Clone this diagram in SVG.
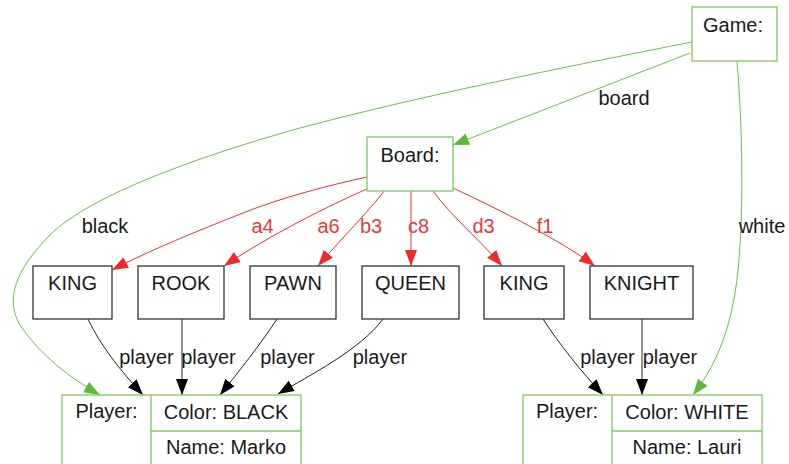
<svg xmlns="http://www.w3.org/2000/svg" width="789" height="464" viewBox="0 0 789 464">
  <style>
    text { font-family: "Liberation Sans", Arial, sans-serif; font-size: 20px; fill: #1a1a1a; text-anchor: middle; }
    .obj { fill: #ffffff; stroke: #7acb5c; stroke-width: 1.3; }
    .cls { fill: #ffffff; stroke: #333333; stroke-width: 1.3; }
    .div { stroke: #7acb5c; stroke-width: 1.3; fill: none; }
    .eg { fill: none; stroke: #6cc04c; stroke-width: 1; marker-end: url(#ag); }
    .er { fill: none; stroke: #ee3030; stroke-width: 1; marker-end: url(#ar); }
    .ek { fill: none; stroke: #222222; stroke-width: 1; marker-end: url(#ak); }
    .lr { fill: #e83a3a; }
  </style>
  <defs>
    <marker id="ag" markerUnits="userSpaceOnUse" markerWidth="17" markerHeight="13" refX="16" refY="6" orient="auto">
      <path d="M0,0 L16,6 L0,12 z" fill="#5db83a"/>
    </marker>
    <marker id="ar" markerUnits="userSpaceOnUse" markerWidth="17" markerHeight="13" refX="16" refY="6" orient="auto">
      <path d="M0,0 L16,6 L0,12 z" fill="#ee2a2a"/>
    </marker>
    <marker id="ak" markerUnits="userSpaceOnUse" markerWidth="17" markerHeight="13" refX="16" refY="6" orient="auto">
      <path d="M0,0 L16,6 L0,12 z" fill="#000000"/>
    </marker>
  </defs>

  <!-- connectors -->
  <g id="connectors">
    <path class="eg" d="M690,53 L453,145"/>
    <path class="eg" d="M692,42 C560,68 420,96 300,128 C200,156 90,195 50,235 C15,270 5,300 20,325 C40,355 70,378 100,395"/>
    <path class="eg" d="M737,61 C742,120 744,200 739,260 C734,320 720,360 693,395"/>

    <path class="er" d="M367,177 C330,185 280,198 243,213 C200,230 150,250 112,270"/>
    <path class="er" d="M367,189 C330,205 270,235 224,266"/>
    <path class="er" d="M385,190 C370,210 340,240 318,266"/>
    <path class="er" d="M411,191 L411,266"/>
    <path class="er" d="M433,191 C450,215 480,240 502,266"/>
    <path class="er" d="M453,188 C500,210 560,240 595,266"/>

    <path class="ek" d="M88,319 C100,345 120,370 143,395"/>
    <path class="ek" d="M182,319 L182,395"/>
    <path class="ek" d="M277,319 C260,345 240,370 220,395"/>
    <path class="ek" d="M383,319 C360,350 310,375 278,394"/>
    <path class="ek" d="M543,319 C560,345 580,370 603,395"/>
    <path class="ek" d="M642,319 L642,395"/>

    <text x="624" y="105">board</text>
    <text x="105" y="233">black</text>
    <text x="762" y="233">white</text>
    <text class="lr" x="262.5" y="233">a4</text>
    <text class="lr" x="328.5" y="233">a6</text>
    <text class="lr" x="371" y="233">b3</text>
    <text class="lr" x="418.5" y="233">c8</text>
    <text class="lr" x="483.5" y="233">d3</text>
    <text class="lr" x="545" y="233">f1</text>
    <text x="146.5" y="364">player</text>
    <text x="208.5" y="364">player</text>
    <text x="287.5" y="364">player</text>
    <text x="380" y="364">player</text>
    <text x="607.5" y="364">player</text>
    <text x="670" y="364">player</text>
  </g>

  <!-- object nodes -->
  <g id="game">
    <rect class="obj" x="692" y="7" width="85" height="54"/>
    <text x="733" y="32">Game:</text>
  </g>
  <g id="board">
    <rect class="obj" x="367" y="137" width="86" height="54"/>
    <text x="410" y="162">Board:</text>
  </g>

  <!-- pieces -->
  <g id="king-black">
    <rect class="cls" x="33" y="266" width="79" height="53"/>
    <text x="72.5" y="290">KING</text>
  </g>
  <g id="rook">
    <rect class="cls" x="138" y="266" width="86" height="53"/>
    <text x="181" y="290">ROOK</text>
  </g>
  <g id="pawn">
    <rect class="cls" x="250" y="266" width="86" height="53"/>
    <text x="293" y="290">PAWN</text>
  </g>
  <g id="queen">
    <rect class="cls" x="362" y="266" width="97" height="53"/>
    <text x="410.5" y="290">QUEEN</text>
  </g>
  <g id="king-white">
    <rect class="cls" x="484" y="266" width="80" height="53"/>
    <text x="524" y="290">KING</text>
  </g>
  <g id="knight">
    <rect class="cls" x="590" y="266" width="103" height="53"/>
    <text x="641.5" y="290">KNIGHT</text>
  </g>

  <!-- players -->
  <g id="player-black">
    <rect class="obj" x="62" y="395" width="239" height="80"/>
    <path class="div" d="M151,395 V475 M151,431 H301"/>
    <text x="106.5" y="418">Player:</text>
    <text x="226" y="419">Color: BLACK</text>
    <text x="226" y="454">Name: Marko</text>
  </g>
  <g id="player-white">
    <rect class="obj" x="523" y="395" width="239" height="80"/>
    <path class="div" d="M612,395 V475 M612,431 H762"/>
    <text x="567" y="418">Player:</text>
    <text x="687" y="419">Color: WHITE</text>
    <text x="687" y="454">Name: Lauri</text>
  </g>
</svg>
